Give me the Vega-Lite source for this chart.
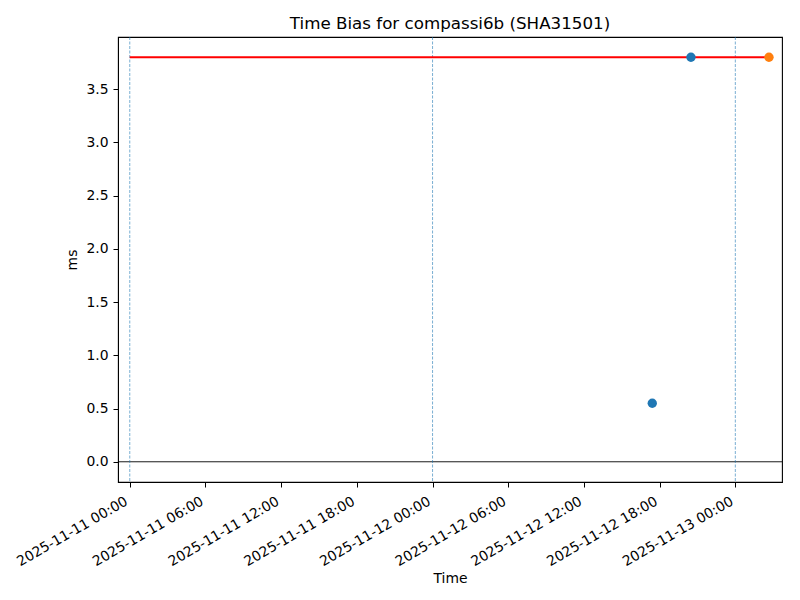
{
  "$schema": "https://vega.github.io/schema/vega-lite/v6.json",
  "width": 664,
  "height": 445,
  "autosize": "none",
  "padding": {"left": 118, "top": 37, "right": 18, "bottom": 118},
  "background": "white",
  "title": {
    "text": "Time Bias for compassi6b (SHA31501)",
    "font": "DejaVu Sans",
    "fontSize": 16.7,
    "fontWeight": "normal",
    "color": "black",
    "offset": 4
  },
  "config": {
    "view": {"stroke": "black", "strokeWidth": 1.1},
    "axis": {
      "labelFont": "DejaVu Sans",
      "titleFont": "DejaVu Sans",
      "labelFontSize": 13.9,
      "titleFontSize": 13.9,
      "titleFontWeight": "normal",
      "labelColor": "black",
      "titleColor": "black",
      "domainColor": "black",
      "tickColor": "black",
      "tickSize": 5,
      "labelPadding": 5,
      "grid": false
    }
  },
  "datasets": {
    "points": [
      {"time": "2025-11-12T17:25:00", "ms": 0.55, "series": "Time bias"},
      {"time": "2025-11-12T20:29:00", "ms": 3.8, "series": "Time bias"},
      {"time": "2025-11-13T02:40:00", "ms": 3.8, "series": "Latest"}
    ],
    "limit": [
      {"time": "2025-11-11T00:00:00", "ms": 3.8},
      {"time": "2025-11-13T02:40:00", "ms": 3.8}
    ],
    "days": [
      {"time": "2025-11-11T00:00:00"},
      {"time": "2025-11-12T00:00:00"},
      {"time": "2025-11-13T00:00:00"}
    ]
  },
  "encoding": {
    "x": {
      "field": "time",
      "type": "temporal",
      "title": "Time",
      "scale": {
        "domain": [
          {"year": 2025, "month": 11, "date": 10, "hours": 23, "minutes": 4},
          {"year": 2025, "month": 11, "date": 13, "hours": 3, "minutes": 42}
        ]
      },
      "axis": {
        "values": [
          {"year": 2025, "month": 11, "date": 11, "hours": 0},
          {"year": 2025, "month": 11, "date": 11, "hours": 6},
          {"year": 2025, "month": 11, "date": 11, "hours": 12},
          {"year": 2025, "month": 11, "date": 11, "hours": 18},
          {"year": 2025, "month": 11, "date": 12, "hours": 0},
          {"year": 2025, "month": 11, "date": 12, "hours": 6},
          {"year": 2025, "month": 11, "date": 12, "hours": 12},
          {"year": 2025, "month": 11, "date": 12, "hours": 18},
          {"year": 2025, "month": 11, "date": 13, "hours": 0}
        ],
        "format": "%Y-%m-%d %H:%M",
        "labelAngle": -30,
        "labelAlign": "right",
        "labelBaseline": "top",
        "labelFlush": false,
        "labelOverlap": false,
        "labelOffset": -7,
        "labelPadding": 7,
        "titlePadding": 3
      }
    }
  },
  "layer": [
    {
      "data": {"values": [{"ms": 0}]},
      "mark": {"type": "rule", "color": "black", "strokeWidth": 0.9},
      "encoding": {"y": {"field": "ms", "type": "quantitative"}, "x": null}
    },
    {
      "data": {"name": "days"},
      "mark": {"type": "rule", "color": "#1f77b4", "strokeWidth": 0.8, "strokeDash": [3, 1.5], "opacity": 0.75},
      "encoding": {}
    },
    {
      "data": {"name": "limit"},
      "mark": {"type": "line", "color": "red", "strokeWidth": 2},
      "encoding": {"y": {"field": "ms", "type": "quantitative"}}
    },
    {
      "data": {"name": "points"},
      "mark": {"type": "point", "filled": true, "opacity": 1, "size": 88},
      "encoding": {
        "y": {
          "field": "ms",
          "type": "quantitative",
          "title": "ms",
          "scale": {"domain": [-0.19, 3.99], "nice": false, "zero": false},
          "axis": {"values": [0, 0.5, 1, 1.5, 2, 2.5, 3, 3.5], "format": ".1f", "titlePadding": 6}
        },
        "color": {
          "field": "series",
          "type": "nominal",
          "scale": {"domain": ["Time bias", "Latest"], "range": ["#1f77b4", "#ff7f0e"]},
          "legend": null
        }
      }
    }
  ]
}
